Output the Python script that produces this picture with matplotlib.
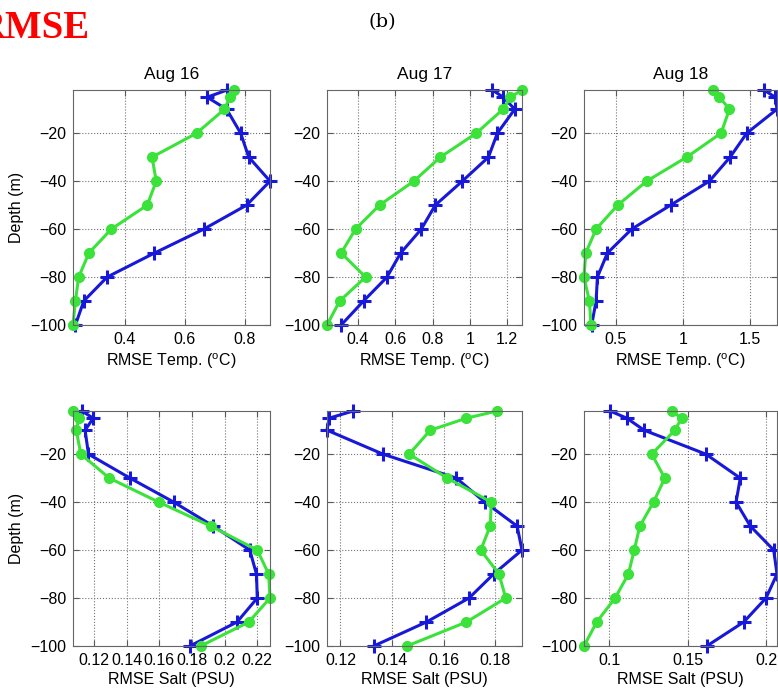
import matplotlib
matplotlib.use("Agg")
import matplotlib.pyplot as plt
from matplotlib.ticker import FormatStrFormatter

plt.rcParams['font.family'] = ['Liberation Sans', 'DejaVu Sans']
plt.rcParams['mathtext.fontset'] = 'custom'
plt.rcParams['mathtext.rm'] = 'Liberation Sans'
plt.rcParams['mathtext.it'] = 'Liberation Sans'

# depth levels (m)
depth = [-2, -5, -10, -20, -30, -40, -50, -60, -70, -80, -90, -100]

days = ["Aug 16", "Aug 17", "Aug 18"]

# temperature RMSE, blue (+) and green (o)
temp_blue = [
    [0.742, 0.675, 0.74, 0.787, 0.814, 0.885, 0.807, 0.664, 0.499, 0.341, 0.263, 0.235],
    [1.121, 1.179, 1.241, 1.148, 1.10, 0.96, 0.815, 0.74, 0.629, 0.556, 0.43, 0.31],
    [1.604, 1.686, 1.70, 1.475, 1.351, 1.197, 0.909, 0.619, 0.438, 0.364, 0.354, 0.321],
]
temp_green = [
    [0.764, 0.751, 0.733, 0.64, 0.491, 0.505, 0.475, 0.355, 0.28, 0.246, 0.235, 0.227],
    [1.28, 1.218, 1.179, 1.035, 0.842, 0.70, 0.516, 0.387, 0.31, 0.441, 0.302, 0.234],
    [1.222, 1.272, 1.346, 1.284, 1.028, 0.731, 0.515, 0.354, 0.277, 0.264, 0.304, 0.316],
]

# salinity RMSE
salt_blue = [
    [0.1124, 0.1194, 0.1144, 0.1165, 0.142, 0.1688, 0.193, 0.2154, 0.2195, 0.22, 0.2076, 0.1787],
    [0.1249, 0.1156, 0.1148, 0.1365, 0.1649, 0.1759, 0.1884, 0.1903, 0.1793, 0.1698, 0.1533, 0.1329],
    [0.1006, 0.1113, 0.1223, 0.1617, 0.1836, 0.1809, 0.190, 0.2049, 0.207, 0.200, 0.1858, 0.1623],
]
salt_green = [
    [0.107, 0.1107, 0.109, 0.1118, 0.1293, 0.1596, 0.1915, 0.22, 0.227, 0.2278, 0.2148, 0.1853],
    [0.1806, 0.1688, 0.1548, 0.1466, 0.1614, 0.1784, 0.178, 0.1743, 0.1814, 0.184, 0.1688, 0.1458],
    [0.1398, 0.1462, 0.1419, 0.1272, 0.1355, 0.1283, 0.1196, 0.116, 0.1123, 0.1038, 0.0921, 0.084],
]

temp_ticks = [[0.4, 0.6, 0.8], [0.4, 0.6, 0.8, 1.0, 1.2], [0.5, 1.0, 1.5]]
salt_ticks = [[0.12, 0.14, 0.16, 0.18, 0.20, 0.22], [0.12, 0.14, 0.16, 0.18], [0.1, 0.15, 0.2]]

blue = '#1818d8'
green = '#3ae23a'

fig = plt.figure(figsize=(7.78, 6.9), dpi=100)

W, H = 778.0, 690.0
cols = [(73, 270), (327, 522), (584, 777)]
rows = [(90, 325), (411, 646)]


def draw(ax, xb, xg, ticks, xlabel):
    ax.plot(xb, depth, '-', color=blue, lw=2.2, marker='+', ms=10, mew=2.2)
    ax.plot(xg, depth, '-', color=green, lw=2.2, marker='o', ms=7, mec=green)
    ax.set_xlim(min(min(xb), min(xg)), max(max(xb), max(xg)))
    ax.set_ylim(-100, -2)
    ax.set_yticks([-20, -40, -60, -80, -100])
    ax.set_xticks(ticks)
    ax.xaxis.set_major_formatter(FormatStrFormatter('%g'))
    ax.grid(True, linestyle=':', color='0.45', lw=0.8)
    ax.tick_params(direction='in', top=True, right=True, length=4,
                   labelsize=11.5, color='0.35', pad=5)
    for s in ax.spines.values():
        s.set_color('0.4')
    ax.set_xlabel(xlabel, fontsize=11.5, labelpad=3)
    for l in ax.get_lines():
        l.set_clip_on(False)


for r, (yt, yb) in enumerate(rows):
    for c, (xl, xr) in enumerate(cols):
        ax = fig.add_axes([xl / W, 1 - yb / H, (xr - xl) / W, (yb - yt) / H])
        if r == 0:
            draw(ax, temp_blue[c], temp_green[c], temp_ticks[c],
                 r'RMSE Temp. ($^{\mathrm{o}}$C)')
            ax.set_title(days[c], fontsize=12.5, pad=8)
        else:
            draw(ax, salt_blue[c], salt_green[c], salt_ticks[c],
                 'RMSE Salt (PSU)')
        if c == 0:
            ax.set_ylabel('Depth (m)', fontsize=11.5, labelpad=4)

# header texts, cut at the left edge as in the source picture
fig.text(-23 / W, 1 - 38 / H, 'RMSE', color='red', fontsize=28, fontweight='bold',
         family='Liberation Serif', ha='left', va='baseline')
fig.text(382 / W, 1 - 22 / H, '(b)', fontsize=14, family='DejaVu Serif',
         ha='center', va='center')

fig.savefig('out.png', dpi=100)
